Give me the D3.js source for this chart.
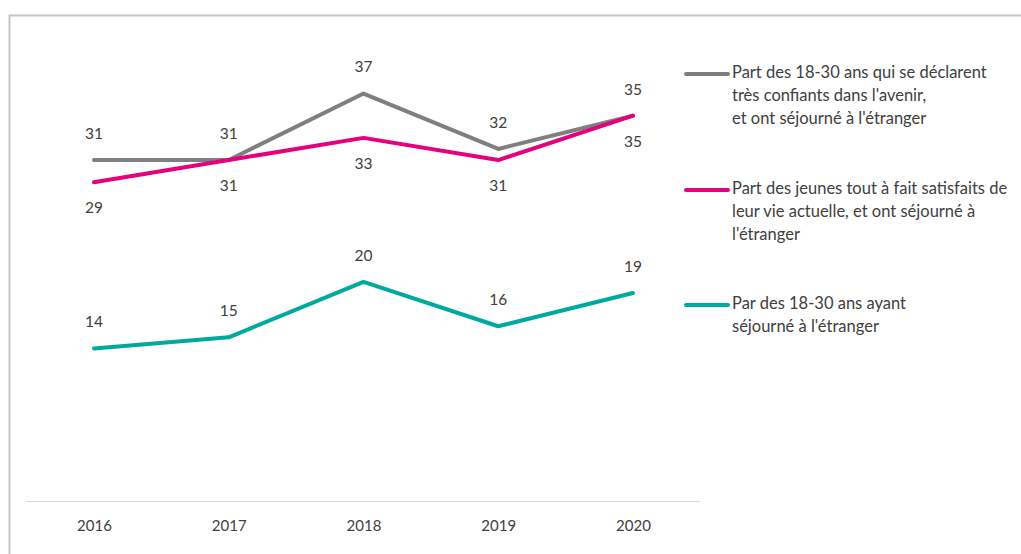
<!DOCTYPE html>
<html><head><meta charset="utf-8">
<script src="https://cdn.jsdelivr.net/npm/d3@7"></script>
<style>body{margin:0;background:#fff}svg{display:block}text{font-family:Lato,"Liberation Sans",sans-serif;fill:#404040}</style>
</head><body><svg id="c" width="1021" height="554"></svg>
<script>
const years = ["2016","2017","2018","2019","2020"];
const confiants = [31,31,37,32,35];
const satisfaits = [29,31,33,31,35];
const sejour = [14,15,20,16,19];
const legendLabels = [
  ["Part des 18-30 ans qui se déclarent","très confiants dans l'avenir,","et ont séjourné à l'étranger"],
  ["Part des jeunes tout à fait satisfaits de","leur vie actuelle, et ont séjourné à","l'étranger"],
  ["Par des 18-30 ans ayant","séjourné à l'étranger"]
];
const series = [
  {values: confiants, color:"#7f7f7f", pos:"above", legendY:74},
  {values: satisfaits, color:"#e5007d", pos:"below", legendY:190},
  {values: sejour, color:"#00a99d", pos:"above", legendY:305}
];

const svg = d3.select("#c");
svg.append("path").attr("d","M9.5,560 V15.5 H1030").attr("fill","none").attr("stroke","#c6c6c6").attr("stroke-width",2);

const x = d3.scalePoint().domain(years).range([94,633]);
const y = d3.scaleLinear().domain([0,44]).range([503.5,16]);

svg.append("line").attr("x1",26).attr("x2",700).attr("y1",501.5).attr("y2",501.5).attr("stroke","#d9d9d9").attr("stroke-width",1);

const ax = svg.append("g").attr("transform","translate(0,502)").call(d3.axisBottom(x).tickSize(0).tickPadding(18));
ax.select(".domain").remove();
ax.selectAll("text").style("font-size","15px").style("fill","#404040").style("font-family","Lato, 'Liberation Sans', sans-serif");

const line = d3.line().x((d,i)=>x(years[i])).y(d=>y(d));
series.forEach((s,k)=>{
  svg.append("path").datum(s.values).attr("d",line).attr("fill","none").attr("stroke",s.color).attr("stroke-width",4).attr("stroke-linejoin","round").attr("stroke-linecap","round");
});
series.forEach((s,k)=>{
  svg.selectAll(null).data(s.values).enter().append("text")
    .attr("x",(d,i)=>x(years[i])).attr("y",d=>y(d)+(s.pos==="above"?-25:27))
    .attr("text-anchor","middle").attr("dominant-baseline","middle")
    .style("font-size","15.5px").text(d=>d);
  const g = svg.append("g");
  g.append("line").attr("x1",686).attr("x2",728).attr("y1",s.legendY).attr("y2",s.legendY).attr("stroke",s.color).attr("stroke-width",4).attr("stroke-linecap","round");
  legendLabels[k].forEach((t,j)=>{
    g.append("text").attr("x",732).attr("y",s.legendY+j*23).attr("dominant-baseline","middle").style("font-size","16.5px").text(t);
  });
});
</script></body></html>
